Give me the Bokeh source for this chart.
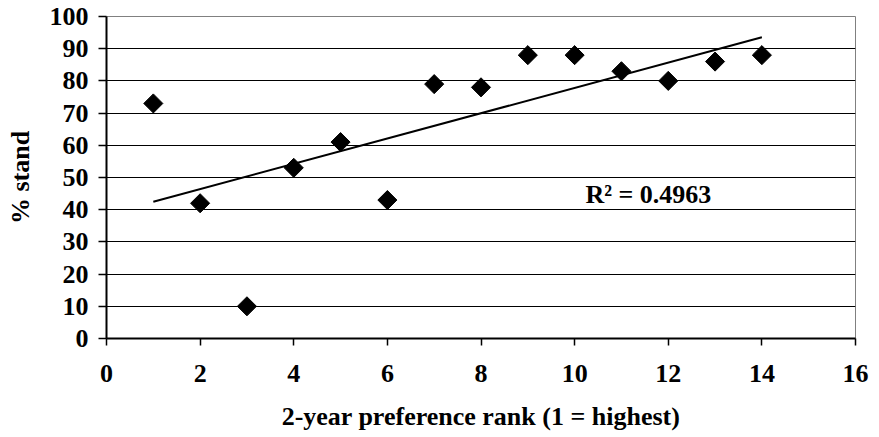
import numpy as np
from bokeh.plotting import figure
from bokeh.models import Range1d, FixedTicker, Label
from bokeh.embed import file_html
from bokeh.resources import INLINE

rank = [1, 2, 3, 4, 5, 6, 7, 8, 9, 10, 11, 12, 13, 14]
pct_stand = [73, 42, 10, 53, 61, 43, 79, 78, 88, 88, 83, 80, 86, 88]
x_ticks = [0, 2, 4, 6, 8, 10, 12, 14, 16]
y_ticks = [0, 10, 20, 30, 40, 50, 60, 70, 80, 90, 100]
r2_text = "R\u00b2 = 0.4963"

FONT = "Liberation Serif"
FS = "26px"

p = figure(width=879, height=437, output_backend="svg", toolbar_location=None,
           x_range=Range1d(0, 16), y_range=Range1d(0, 100),
           min_border_left=106, min_border_right=24, min_border_top=16, min_border_bottom=99)

p.background_fill_color = "white"
p.border_fill_color = "white"
p.outline_line_color = "#808080"
p.outline_line_width = 1

# trend line (least squares)
xa = np.array(rank, dtype=float)
ya = np.array(pct_stand, dtype=float)
slope, intercept = np.polyfit(xa, ya, 1)
xl = np.array([min(rank), max(rank)], dtype=float)
p.line(xl, slope * xl + intercept, line_color="black", line_width=2)

p.scatter(rank, pct_stand, marker="square", angle=np.pi / 4, size=13.5,
          fill_color="black", line_color="black")

p.xgrid.visible = False
p.ygrid.grid_line_color = "black"
p.ygrid.grid_line_width = 1
p.ygrid.ticker = FixedTicker(ticks=y_ticks)

p.xaxis.ticker = FixedTicker(ticks=x_ticks)
p.yaxis.ticker = FixedTicker(ticks=y_ticks)

for ax in (p.xaxis[0], p.yaxis[0]):
    ax.axis_line_color = "black"
    ax.axis_line_width = 2
    ax.major_tick_line_color = "black"
    ax.major_tick_line_width = 1.5
    ax.major_tick_in = 0
    ax.minor_tick_line_color = None
    ax.major_label_text_font = FONT
    ax.major_label_text_font_style = "bold"
    ax.major_label_text_font_size = FS
    ax.major_label_text_color = "black"
    ax.axis_label_text_font = FONT
    ax.axis_label_text_font_style = "bold"
    ax.axis_label_text_font_size = FS
    ax.axis_label_text_color = "black"

p.xaxis.major_tick_out = 7
p.yaxis.major_tick_out = 8
p.xaxis.major_label_standoff = 19
p.yaxis.major_label_standoff = 10
p.xaxis.axis_label = "2-year preference rank (1 = highest)"
p.yaxis.axis_label = "% stand"
p.xaxis.axis_label_standoff = 17
p.yaxis.axis_label_standoff = 12

p.add_layout(Label(x=10.23, y=44.7, text=r2_text, text_font=FONT,
                   text_font_style="bold", text_font_size=FS,
                   text_color="black", text_baseline="alphabetic"))

open("out.html", "w").write(file_html(p, INLINE))
